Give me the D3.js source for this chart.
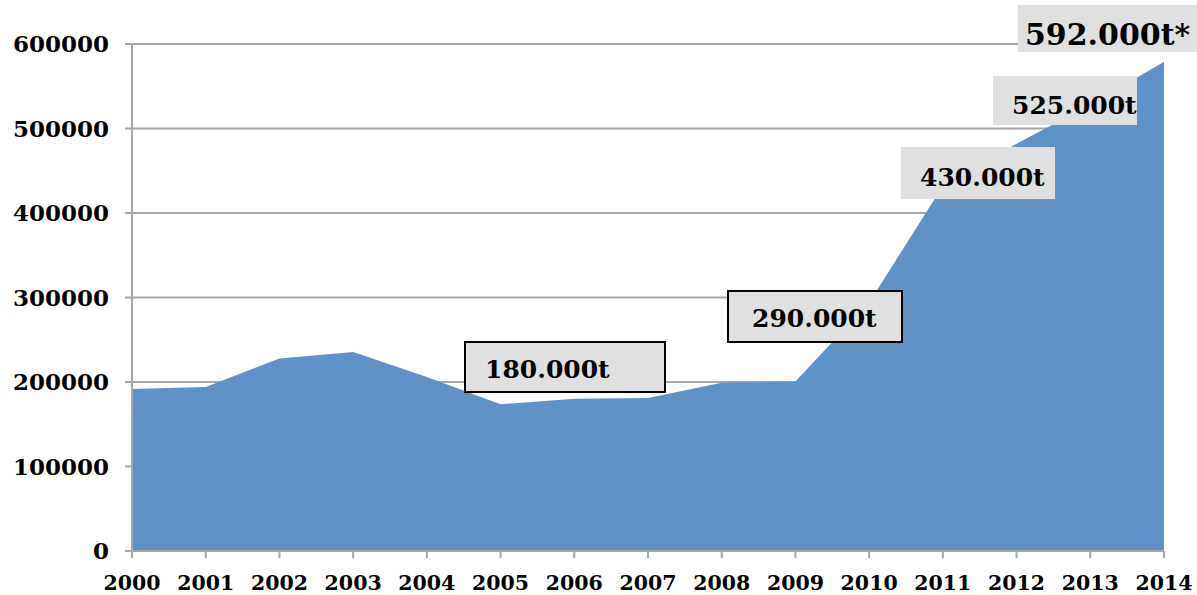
<!DOCTYPE html>
<html>
<head>
<meta charset="utf-8">
<script src="https://cdn.jsdelivr.net/npm/d3@7"></script>
<style>
  body { margin: 0; background: #fff; }
  text { font-family: "DejaVu Serif", Georgia, serif; font-weight: bold; fill: #000; }
</style>
</head>
<body>
<div id="chart"></div>
<script>
var years = [2000, 2001, 2002, 2003, 2004, 2005, 2006, 2007, 2008, 2009, 2010, 2011, 2012, 2013, 2014];
var tonnes = [191700, 194100, 227900, 235400, 205900, 173600, 180300, 181100, 199000, 200500, 294000, 432000, 482000, 528000, 579000];
var yTicks = [0, 100000, 200000, 300000, 400000, 500000, 600000];
var labels = ["180.000t", "290.000t", "430.000t", "525.000t", "592.000t*"];

var W = 1197, H = 595;
var margin = {top: 44, right: 33, bottom: 44, left: 132};

var svg = d3.select("#chart").append("svg")
    .attr("width", W)
    .attr("height", H);

var x = d3.scaleLinear()
    .domain([years[0], years[years.length - 1]])
    .range([margin.left, W - margin.right]);
var y = d3.scaleLinear()
    .domain([0, 600000])
    .range([H - margin.bottom, margin.top]);

var gridColor = "#a6a6a6";

// horizontal grid + y ticks
svg.append("g").selectAll("line")
    .data(yTicks)
  .enter().append("line")
    .attr("x1", margin.left - 7)
    .attr("x2", x(2014))
    .attr("y1", function(d){ return y(d); })
    .attr("y2", function(d){ return y(d); })
    .attr("stroke", gridColor)
    .attr("stroke-width", 2);

svg.append("g").selectAll("text")
    .data(yTicks)
  .enter().append("text")
    .attr("x", 109)
    .attr("y", function(d){ return y(d) + 8; })
    .attr("text-anchor", "end")
    .style("font-size", "23px")
    .text(function(d){ return d; });

// area
var area = d3.area()
    .x(function(d, i){ return x(years[i]); })
    .y0(y(0))
    .y1(function(d){ return y(d); });

svg.append("path")
    .datum(tonnes)
    .attr("d", area)
    .attr("fill", "#5f93c8");

// axes lines
svg.append("line")
    .attr("x1", margin.left).attr("x2", margin.left)
    .attr("y1", y(600000)).attr("y2", y(0))
    .attr("stroke", gridColor).attr("stroke-width", 2);

svg.append("line")
    .attr("x1", margin.left).attr("x2", x(2014))
    .attr("y1", y(0)).attr("y2", y(0))
    .attr("stroke", gridColor).attr("stroke-width", 2);

svg.append("g").selectAll("line")
    .data(years)
  .enter().append("line")
    .attr("x1", function(d){ return x(d); })
    .attr("x2", function(d){ return x(d); })
    .attr("y1", y(0))
    .attr("y2", y(0) + 7)
    .attr("stroke", gridColor)
    .attr("stroke-width", 2);

svg.append("g").selectAll("text")
    .data(years)
  .enter().append("text")
    .attr("x", function(d){ return x(d); })
    .attr("y", 590)
    .attr("text-anchor", "middle")
    .style("font-size", "20.5px")
    .text(function(d){ return d; });

// annotation boxes (layout only)
var boxes = [
  {x: 465, y: 342, w: 200, h: 50, tx: 485, ty: 378, size: 25, border: true},
  {x: 728, y: 291, w: 174, h: 51, tx: 752, ty: 327, size: 25, border: true},
  {x: 901, y: 147, w: 154, h: 52, tx: 920, ty: 186, size: 25, border: false},
  {x: 993, y: 76,  w: 144, h: 49, tx: 1012, ty: 114, size: 25, border: false},
  {x: 1018, y: 5,  w: 179, h: 47, tx: 1025, ty: 45, size: 30, border: false}
];

var ann = svg.append("g").selectAll("g")
    .data(labels)
  .enter().append("g");

ann.append("rect")
    .attr("x", function(d, i){ return boxes[i].x; })
    .attr("y", function(d, i){ return boxes[i].y; })
    .attr("width", function(d, i){ return boxes[i].w; })
    .attr("height", function(d, i){ return boxes[i].h; })
    .attr("fill", "#e0e0e0")
    .attr("stroke", function(d, i){ return boxes[i].border ? "#000" : "none"; })
    .attr("stroke-width", 2);

ann.append("text")
    .attr("x", function(d, i){ return boxes[i].tx; })
    .attr("y", function(d, i){ return boxes[i].ty; })
    .style("font-size", function(d, i){ return boxes[i].size + "px"; })
    .text(function(d){ return d; });
</script>
</body>
</html>
